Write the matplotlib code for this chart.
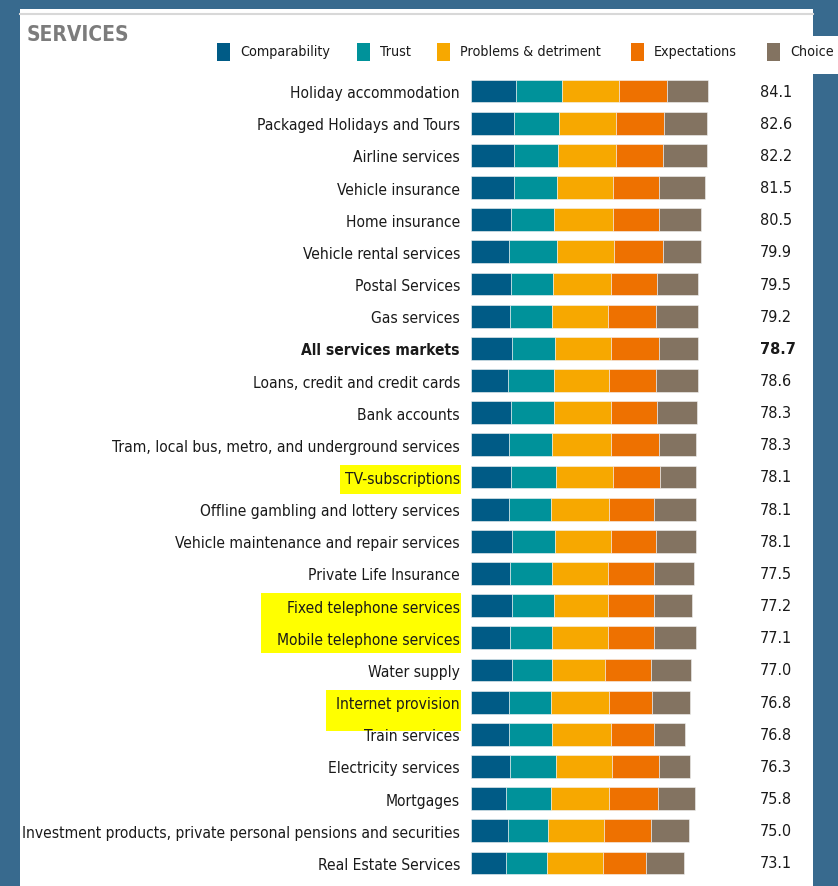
import matplotlib
matplotlib.use("Agg")
import matplotlib.pyplot as plt
from matplotlib.patches import Rectangle
import numpy as np

W, H = 838, 887

categories = [
    "Holiday accommodation", "Packaged Holidays and Tours", "Airline services",
    "Vehicle insurance", "Home insurance", "Vehicle rental services",
    "Postal Services", "Gas services", "All services markets",
    "Loans, credit and credit cards", "Bank accounts",
    "Tram, local bus, metro, and underground services", "TV-subscriptions",
    "Offline gambling and lottery services", "Vehicle maintenance and repair services",
    "Private Life Insurance", "Fixed telephone services", "Mobile telephone services",
    "Water supply", "Internet provision", "Train services", "Electricity services",
    "Mortgages", "Investment products, private personal pensions and securities",
    "Real Estate Services",
]
scores = [84.1, 82.6, 82.2, 81.5, 80.5, 79.9, 79.5, 79.2, 78.7, 78.6, 78.3, 78.3,
          78.1, 78.1, 78.1, 77.5, 77.2, 77.1, 77.0, 76.8, 76.8, 76.3, 75.8, 75.0, 73.1]

comparability = [16.0, 15.4, 15.4, 15.3, 14.2, 13.6, 14.2, 13.7, 14.6, 13.0, 14.2, 13.6, 14.2,
                 13.6, 14.7, 13.7, 14.7, 13.7, 14.7, 13.6, 13.5, 14.0, 12.4, 13.1, 12.5]
trust = [16.3, 15.7, 15.3, 15.1, 15.3, 16.8, 14.9, 15.1, 15.1, 16.3, 15.1, 15.3, 16.1,
         14.8, 15.0, 15.0, 14.7, 14.9, 14.0, 14.8, 15.3, 16.0, 15.9, 14.1, 14.3]
problems = [20.1, 20.4, 20.6, 19.9, 20.8, 20.5, 20.6, 19.8, 20.1, 19.8, 20.4, 20.8, 20.0,
            20.5, 19.9, 19.8, 19.2, 19.9, 18.8, 20.7, 20.9, 20.2, 20.8, 20.1, 20.2]
expectations = [17.0, 17.0, 16.7, 16.4, 16.4, 17.2, 16.3, 17.0, 16.8, 16.7, 16.3, 16.9, 16.7,
                16.1, 16.1, 16.6, 16.2, 16.6, 16.3, 15.3, 15.3, 16.4, 17.4, 16.6, 15.0]
choice = [14.7, 15.3, 15.7, 16.3, 14.9, 13.4, 14.7, 15.0, 14.0, 14.7, 14.3, 13.1, 12.8,
          14.7, 14.0, 14.2, 13.8, 14.8, 14.2, 13.4, 11.1, 11.0, 12.9, 13.6, 13.6]

series_names = ["Comparability", "Trust", "Problems & detriment", "Expectations", "Choice"]
series = [comparability, trust, problems, expectations, choice]
colors = ["#005b86", "#00929a", "#f7a800", "#ee7100", "#837361"]

bold_row = "All services markets"
highlighted = [["TV-subscriptions"],
               ["Fixed telephone services", "Mobile telephone services"],
               ["Internet provision"]]
# hand-drawn marker boxes: left, right, top, bottom padding in pixels
hl_pad = [(5, 1, 6, 8), (16, 1, 7, 6), (10, 1, 6, 20)]

plt.rcParams["font.family"] = ["DejaVu Sans"]
plt.rcParams["font.stretch"] = "condensed"

fig = plt.figure(figsize=(W / 100, H / 100), dpi=100, facecolor="#386a8e")

# white panel
fig.patches.append(Rectangle((20 / W, 0), 793 / W, 877 / H, transform=fig.transFigure,
                             facecolor="white", edgecolor="none", zorder=0))
fig.patches.append(Rectangle((813 / W, (H - 75) / H), 25 / W, 38 / H, transform=fig.transFigure,
                             facecolor="white", edgecolor="none", zorder=0))
fig.lines.append(plt.Line2D([20 / W, 813 / W], [(H - 15) / H] * 2, transform=fig.transFigure,
                            color="#d8d8d8", lw=1.5, zorder=1))

fig.text(27 / W, (H - 35) / H, "SERVICES", fontsize=15, fontweight="bold", color="#7c7c7c",
         va="center", ha="left", zorder=3)

# legend
leg_x = [217, 357, 437, 631, 767]
for name, c, lx in zip(series_names, colors, leg_x):
    fig.patches.append(Rectangle((lx / W, (H - 62) / H), 13 / W, 18 / H, transform=fig.transFigure,
                                 facecolor=c, edgecolor="none", zorder=2))
    fig.text((lx + 23) / W, (H - 52) / H, name, fontsize=10.3, color="#1a1a1a",
             va="center", ha="left", zorder=3)

ax = fig.add_axes([471 / W, 7 / H, 280 / W, 804 / H])
ax.set_zorder(2)
ax.set_facecolor("none")
n = len(categories)
y = np.arange(n)
left = np.zeros(n)
for vals, c in zip(series, colors):
    vals = np.array(vals)
    ax.barh(y, vals, left=left, height=0.71, color=c, edgecolor="#f4f4f4", linewidth=0.4)
    left += vals

ax.set_ylim(n - 0.5, -0.5)
ax.set_xlim(0, 280 / 2.818)
ax.set_yticks(y)
ax.set_yticklabels(categories, fontsize=11.2, color="#1a1a1a")
ax.tick_params(axis="y", length=0, pad=8)
ax.set_xticks([])
for s in ax.spines.values():
    s.set_visible(False)

for lab in ax.get_yticklabels():
    if lab.get_text() == bold_row:
        lab.set_fontweight("bold")

for i, (cat, sc) in enumerate(zip(categories, scores)):
    ax.annotate(f"{sc:.1f}", xy=(1.032, i), xycoords=("axes fraction", "data"),
                fontsize=11.6, va="center", ha="left", color="#1a1a1a",
                fontweight="bold" if cat == bold_row else "normal")

# yellow highlight boxes behind selected labels
fig.canvas.draw()
renderer = fig.canvas.get_renderer()
labels = {t.get_text(): t for t in ax.get_yticklabels()}
for group, (pl, pr, pt, pb) in zip(highlighted, hl_pad):
    boxes = [labels[g].get_window_extent(renderer) for g in group]
    x0 = min(b.x0 for b in boxes) - pl
    x1 = max(b.x1 for b in boxes) + pr
    y0 = min(b.y0 for b in boxes) - pb
    y1 = max(b.y1 for b in boxes) + pt
    fig.patches.append(Rectangle((x0, y0), x1 - x0, y1 - y0, transform=None,
                                 facecolor="#ffff00", edgecolor="none", zorder=1))

fig.savefig("out.png", dpi=100, facecolor=fig.get_facecolor())
